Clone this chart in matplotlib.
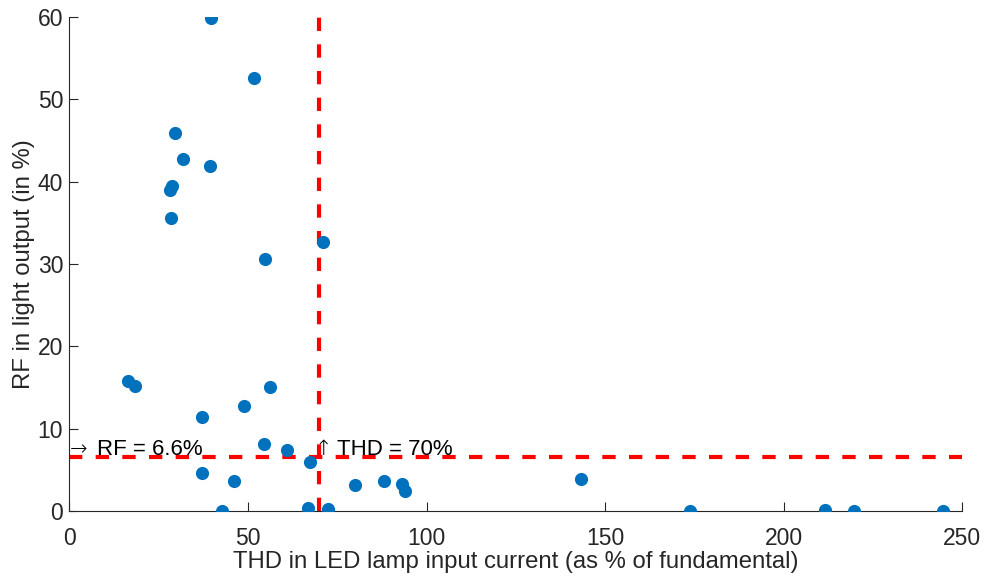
import matplotlib
matplotlib.use("Agg")
import matplotlib.pyplot as plt

plt.rcParams['font.family'] = ['Liberation Sans', 'DejaVu Sans']

# THD of LED lamp input current (% of fundamental) and RF of light output (%)
thd = [39.6, 51.7, 29.5, 31.8, 39.4, 28.7, 28.2, 28.4, 71.0, 54.8,
       16.4, 18.3, 56.2, 37.2, 48.8, 54.6, 60.9, 67.3, 37.1, 46.1,
       42.7, 66.8, 72.3, 80.1, 88.0, 93.2, 93.9, 143.3, 173.8, 211.7,
       219.6, 244.7]
rf = [59.9, 52.6, 45.9, 42.8, 41.9, 39.5, 39.0, 35.6, 32.7, 30.6,
      15.8, 15.2, 15.1, 11.4, 12.8, 8.1, 7.4, 5.95, 4.6, 3.6,
      0.0, 0.33, 0.24, 3.1, 3.6, 3.3, 2.4, 3.85, 0.0, 0.08,
      0.0, 0.04]

thd_limit = 70
rf_limit = 6.6
x_ticks = [0, 50, 100, 150, 200, 250]
y_ticks = [0, 10, 20, 30, 40, 50, 60]

fig = plt.figure(figsize=(9.84, 5.78), dpi=100)
ax = fig.add_axes([0.0706, 0.1159, 0.9071, 0.8547])

ax.scatter(thd, rf, s=90, color='#0072BD', zorder=3, linewidths=0)

dash = (0, (3.2, 3.2))
ax.plot([0, 250], [rf_limit, rf_limit], color='#FF0000', lw=3, linestyle=dash, zorder=2)
ax.plot([thd_limit, thd_limit], [0, 60], color='#FF0000', lw=3, linestyle=dash, zorder=2)

# threshold labels: thin arrow glyph followed by the text
label_y = rf_limit + 0.2
arrow_font = dict(fontsize=15, color='black', family='DejaVu Sans', fontweight='light',
                  va='baseline')
text_font = dict(fontsize=16, color='black', va='baseline', ha='left')

ax.annotate('\u2192', xy=(0, label_y), xytext=(0.5, 0), textcoords='offset points',
            ha='left', **arrow_font)
ax.annotate('RF = 6.6%', xy=(0, label_y), xytext=(19.5, 0), textcoords='offset points',
            **text_font)
ax.annotate('\u2191', xy=(thd_limit, label_y), xytext=(3, 0), textcoords='offset points',
            ha='center', **arrow_font)
ax.annotate('THD = 70%', xy=(thd_limit, label_y), xytext=(13, 0), textcoords='offset points',
            **text_font)

ax.set_xlim(0, 250)
ax.set_ylim(0, 60)
ax.set_xticks(x_ticks)
ax.set_yticks(y_ticks)

axis_color = '#262626'
for side in ('top', 'right'):
    ax.spines[side].set_visible(False)
for side in ('left', 'bottom'):
    ax.spines[side].set_color(axis_color)
    ax.spines[side].set_linewidth(0.8)
ax.tick_params(direction='in', length=6.5, width=0.8, colors=axis_color,
               labelsize=16.5)
ax.tick_params(axis='x', pad=11.5)
ax.tick_params(axis='y', pad=4.5)

ax.set_xlabel('THD in LED lamp input current (as % of fundamental)',
              fontsize=17.2, color=axis_color, labelpad=1)
ax.set_ylabel('RF in light output (in %)', fontsize=17.2, color=axis_color, labelpad=2)

fig.savefig('out.png', dpi=100)
